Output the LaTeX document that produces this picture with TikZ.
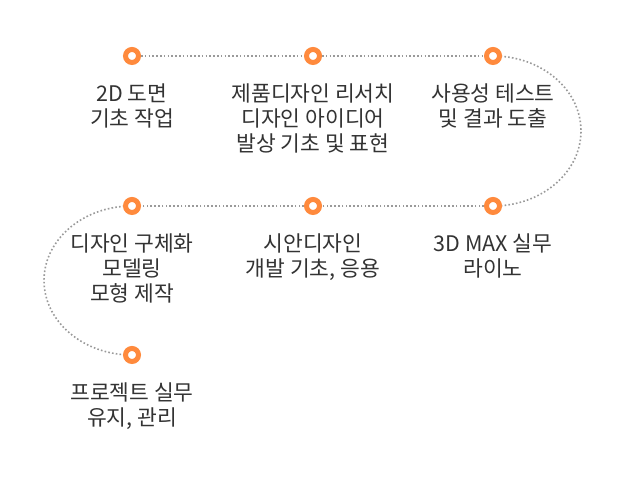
\documentclass[tikz,border=0pt]{standalone}
\usepackage{fontspec}
\newfontfamily\kr{Noto Sans CJK KR}
\usetikzlibrary{backgrounds}
\definecolor{dotorange}{HTML}{FF8A3D}
\definecolor{dotgray}{HTML}{9A9A9A}
\definecolor{txt}{HTML}{333333}
\tikzset{
  dotmark/.style={circle, draw=dotorange, line width=5pt, fill=white, minimum size=13pt, inner sep=0pt},
  lbl/.style={anchor=north, align=center, text=txt, inner sep=0pt, yshift=-28pt,
    font=\kr\fontsize{21.5pt}{25pt}\selectfont},
  trail/.style={draw=dotgray, line width=1.6pt, dash pattern=on 1.6pt off 2.2pt}
}
\begin{document}
\begin{tikzpicture}[x=1pt,y=1pt]
\useasboundingbox (0,0) rectangle (627,478);
\node[dotmark] (c1) at (132,422) {};
\node[dotmark] (c2) at (313,422) {};
\node[dotmark] (c3) at (493,422) {};
\node[dotmark] (c4) at (493,272) {};
\node[dotmark] (c5) at (313,272) {};
\node[dotmark] (c6) at (132,272) {};
\node[dotmark] (c7) at (132,123) {};
\begin{pgfonlayer}{background}
\fill[white] (0,0) rectangle (627,478);
\draw[trail] (c1) -- (c2);
\draw[trail] (c2) -- (c3);
\draw[trail] (c3.center) arc[start angle=90, end angle=-90, x radius=88pt, y radius=75pt];
\draw[trail] (c4) -- (c5);
\draw[trail] (c5) -- (c6);
\draw[trail] (c6.center) arc[start angle=90, end angle=270, x radius=88pt, y radius=74.5pt];
\end{pgfonlayer}
\node[lbl] (t1) at (c1) {2D 도면\\기초 작업};
\node[lbl] (t2) at (c2) {제품디자인 리서치\\디자인 아이디어\\발상 기초 및 표현};
\node[lbl] (t3) at (c3) {사용성 테스트\\및 결과 도출};
\node[lbl] (t4) at (c4) {3D MAX 실무\\라이노};
\node[lbl] (t5) at (c5) {시안디자인\\개발 기초, 응용};
\node[lbl] (t6) at (c6) {디자인 구체화\\모델링\\모형 제작};
\node[lbl] (t7) at (c7) {프로젝트 실무\\유지, 관리};
\end{tikzpicture}
\end{document}
